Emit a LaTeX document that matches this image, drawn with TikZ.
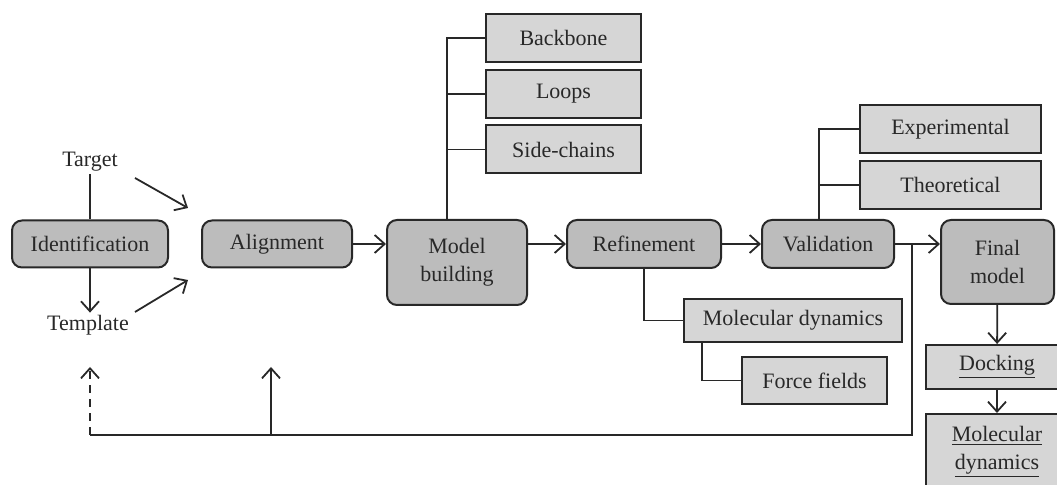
\documentclass[tikz,border=0pt]{standalone}
\usepackage{fontspec}
\setmainfont{Liberation Serif}
\usetikzlibrary{arrows.meta}

\definecolor{stagegray}{RGB}{188,188,188}
\definecolor{subgray}{RGB}{214,214,214}
\definecolor{inkgray}{RGB}{40,40,40}

\tikzset{
  stage/.style={draw=inkgray, line width=1pt, fill=stagegray, rounded corners=5pt,
    align=center, inner sep=0pt, text=inkgray, font=\fontsize{11}{14}\selectfont},
  subbox/.style={draw=inkgray, line width=1pt, fill=subgray,
    align=center, inner sep=0pt, text=inkgray, font=\fontsize{11}{14}\selectfont},
  plain/.style={inner sep=1pt, text=inkgray, font=\fontsize{11}{14}\selectfont},
  link/.style={draw=inkgray, line width=0.9pt},
  flow/.style={link, -{Straight Barb[length=5pt,width=9pt]}}
}

\begin{document}
\begin{tikzpicture}[x=0.5pt,y=-0.5pt]
  \useasboundingbox (0,0) rectangle (1057,485);

  % main stages
  \node[stage, minimum width=78pt, minimum height=23.5pt] (ident) at (90,244) {Identification};
  \node[stage, minimum width=75pt, minimum height=23.5pt] (align) at (277,244) {Alignment};
  \node[stage, minimum width=70pt, minimum height=42.5pt] (model) at (457,262.5) {Model\\building};
  \node[stage, minimum width=77pt, minimum height=24pt] (refine) at (644,244) {Refinement};
  \node[stage, minimum width=66pt, minimum height=24pt] (valid) at (828,244) {Validation};
  \node[stage, minimum width=56.5pt, minimum height=42pt] (final) at (997.5,262) {Final\\model};

  % target / template
  \node[plain] (target) at (90,162) {Target};
  \node[plain] (templ) at (88,325) {Template};

  % sub steps
  \node[subbox, minimum width=77.5pt, minimum height=24pt] (backbone) at (563.5,38) {Backbone};
  \node[subbox, minimum width=77.5pt, minimum height=24pt] (loops) at (563.5,94) {Loops};
  \node[subbox, minimum width=77.5pt, minimum height=24pt] (sidech) at (563.5,149.5) {Side-chains};
  \node[subbox, minimum width=90.5pt, minimum height=24pt] (exper) at (950.5,129) {Experimental};
  \node[subbox, minimum width=90.5pt, minimum height=24pt] (theor) at (950.5,185) {Theoretical};
  \node[subbox, minimum width=109pt, minimum height=21.5pt] (moldyn) at (793,320.5) {Molecular dynamics};
  \node[subbox, minimum width=72.5pt, minimum height=23.5pt] (ffield) at (814.5,380.5) {Force fields};
  \node[subbox, minimum width=71pt, minimum height=22pt] (dock) at (997,367) {\underline{Docking}};
  \node[subbox, minimum width=71pt, minimum height=38pt] (moldyn2) at (997,452) {\underline{Molecular}\\\underline{dynamics}};

  % free ends
  \coordinate (tgtout) at (135,178);
  \coordinate (tgtin) at (188,208);
  \coordinate (tplout) at (135,312);
  \coordinate (tplin) at (188,280);
  \coordinate (fork) at (912,244);
  \coordinate (backl) at (90,435);
  \coordinate (backm) at (271,435);
  \coordinate (retl) at (90,367);
  \coordinate (retm) at (271,367);
  \coordinate (mbstem) at ([xshift=-5pt]model.north);
  \coordinate (vastem) at ([xshift=-4.5pt]valid.north);
  \coordinate (mdstem) at ([xshift=9.5pt]moldyn.south west);

  % identification
  \draw[link] (target) -- (ident);
  \draw[flow] (ident) -- (ident.south |- templ.north);
  \draw[flow] (tgtout) -- (tgtin);
  \draw[flow] (tplout) -- (tplin);

  % main flow
  \draw[flow] (align) -- (model.west |- align);
  \draw[flow] (model.east |- refine) -- (refine);
  \draw[flow] (refine) -- (valid);
  \draw[flow] (valid) -- (final.west |- valid);
  \draw[flow] (final) -- (dock);
  \draw[flow] (dock) -- (moldyn2);

  % branches
  \draw[link] (mbstem) |- (backbone.west);
  \draw[link] (loops.west) -- (loops.west -| mbstem);
  \draw[link] (sidech.west) -- (sidech.west -| mbstem);
  \draw[link] (vastem) |- (exper.west);
  \draw[link] (theor.west) -- (theor.west -| vastem);
  \draw[link] (refine) |- (moldyn.west);
  \draw[link] (mdstem) |- (ffield.west);

  % feedback
  \draw[link] (fork) |- (backl);
  \draw[flow, dashed, dash pattern=on 4pt off 3pt] (backl) -- (retl);
  \draw[flow] (backm) -- (retm);
\end{tikzpicture}
\end{document}
